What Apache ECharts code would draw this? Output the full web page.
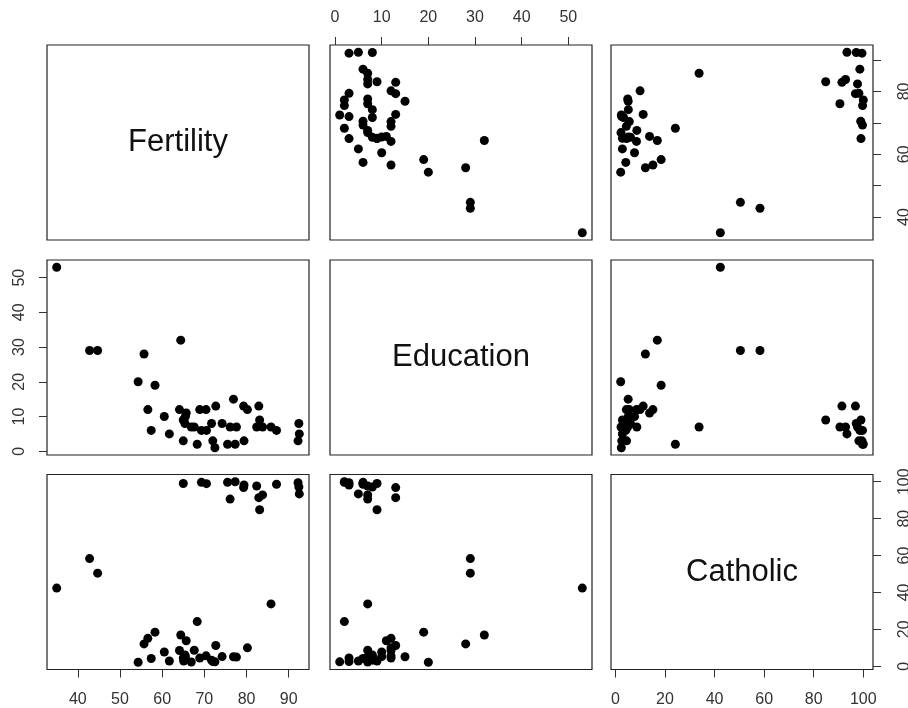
<!DOCTYPE html>
<html>
<head>
<meta charset="utf-8">
<script src="https://cdn.jsdelivr.net/npm/echarts@6/dist/echarts.min.js"></script>
<style>
  html, body { margin: 0; padding: 0; background: #fff; }
  #main { width: 908px; height: 708px; }
</style>
</head>
<body>
<div id="main"></div>
<script>
// swiss data: 47 provinces
var fertility = [80.2, 83.1, 92.5, 85.8, 76.9, 76.1, 83.8, 92.4, 82.4, 82.9, 87.1, 64.1, 66.9, 68.9, 61.7, 68.3, 71.7, 55.7, 54.3, 65.1, 65.5, 65.0, 56.6, 57.4, 72.5, 74.2, 72.0, 60.5, 58.3, 65.4, 75.5, 69.3, 77.3, 70.5, 79.4, 65.0, 92.2, 79.3, 70.4, 65.7, 72.7, 64.4, 77.6, 67.6, 35.0, 44.7, 42.8];
var education = [12, 9, 5, 7, 15, 7, 7, 8, 7, 13, 6, 12, 7, 12, 5, 2, 8, 28, 20, 9, 10, 3, 12, 6, 1, 8, 3, 10, 19, 8, 2, 6, 2, 6, 3, 9, 3, 13, 12, 11, 13, 32, 7, 7, 53, 29, 29];
var catholic = [9.96, 84.84, 93.40, 33.77, 5.16, 90.57, 92.85, 97.16, 97.67, 91.38, 98.61, 8.52, 2.27, 4.43, 2.82, 24.20, 3.30, 12.11, 2.15, 2.84, 5.23, 4.52, 15.14, 4.20, 2.40, 5.23, 2.56, 7.72, 18.46, 6.10, 99.71, 99.68, 100.00, 98.96, 98.22, 99.06, 99.46, 96.83, 5.62, 13.79, 11.22, 16.92, 4.97, 8.65, 42.34, 50.43, 58.33];

var varNames = ['Fertility', 'Education', 'Catholic'];
var fertTicks = [40, 50, 60, 70, 80, 90];
var fertRightLabels = [40, 60, 80];
var eduTicks = [0, 10, 20, 30, 40, 50];
var cathTicks = [0, 20, 40, 60, 80, 100];

var chartDom = document.getElementById('main');
var myChart = echarts.init(chartDom);

// R-style range: data range extended by 4% each side
function rng(a) {
  var lo = Math.min.apply(null, a), hi = Math.max.apply(null, a);
  var d = (hi - lo) * 0.04;
  return [lo - d, hi + d];
}
var vars = [fertility, education, catholic];
var ranges = vars.map(rng);

var lefts = [47, 330, 611];
var tops = [45, 260, 474.5];
var W = 262, H = 195;
var labelMargin = { top: 19, bottom: 22, left: 19, right: 24 };

// which panel gets which axis: [row, col, 'x'|'y', position, ticks, labels]
var axisSpecs = [
  [0, 1, 'x', 'top', eduTicks, eduTicks],
  [2, 0, 'x', 'bottom', fertTicks, fertTicks],
  [2, 2, 'x', 'bottom', cathTicks, cathTicks],
  [1, 0, 'y', 'left', eduTicks, eduTicks],
  [0, 2, 'y', 'right', fertTicks, fertRightLabels],
  [2, 2, 'y', 'right', cathTicks, cathTicks]
];
function findSpec(i, j, dim) {
  for (var k = 0; k < axisSpecs.length; k++) {
    var s = axisSpecs[k];
    if (s[0] === i && s[1] === j && s[2] === dim) return s;
  }
  return null;
}

function makeAxis(dim, gridIndex, r, spec) {
  var ax = {
    type: 'value',
    gridIndex: gridIndex,
    min: r[0],
    max: r[1],
    axisLine: { show: false, onZero: false },
    splitLine: { show: false },
    axisTick: { show: false },
    axisLabel: { show: false }
  };
  if (spec) {
    ax.position = spec[3];
    ax.axisTick = {
      show: true,
      inside: false,
      length: 8,
      customValues: spec[4],
      lineStyle: { color: '#333', width: 1 }
    };
    ax.axisLabel = {
      show: true,
      customValues: spec[5],
      color: '#333',
      fontSize: 16,
      fontFamily: 'Liberation Sans, Arial, sans-serif',
      margin: labelMargin[spec[3]],
      rotate: dim === 'y' ? 90 : 0
    };
  }
  return ax;
}

var grids = [], xAxes = [], yAxes = [], series = [], texts = [];
for (var i = 0; i < 3; i++) {
  for (var j = 0; j < 3; j++) {
    var g = i * 3 + j;
    grids.push({
      left: lefts[j], top: tops[i], width: W, height: H,
      containLabel: false,
      outerBoundsMode: 'none',
      show: true, borderColor: '#222', borderWidth: 1.2, backgroundColor: 'transparent'
    });
    xAxes.push(makeAxis('x', g, ranges[j], findSpec(i, j, 'x')));
    yAxes.push(makeAxis('y', g, ranges[i], findSpec(i, j, 'y')));
    if (i === j) {
      texts.push({
        type: 'text',
        x: lefts[j] + W / 2,
        y: tops[i] + H / 2,
        style: {
          text: varNames[i],
          fill: '#111',
          font: '31px "Liberation Sans", Arial, sans-serif',
          textAlign: 'center',
          textVerticalAlign: 'middle'
        }
      });
    } else {
      var pts = vars[j].map(function (v, k) { return [v, vars[i][k]]; });
      series.push({
        type: 'scatter',
        xAxisIndex: g,
        yAxisIndex: g,
        symbol: 'circle',
        symbolSize: 9,
        itemStyle: { color: '#000', opacity: 1 },
        data: pts,
        silent: true
      });
    }
  }
}

var option = {
  animation: false,
  backgroundColor: '#fff',
  grid: grids,
  xAxis: xAxes,
  yAxis: yAxes,
  series: series,
  graphic: texts
};

option && myChart.setOption(option);
</script>
</body>
</html>
